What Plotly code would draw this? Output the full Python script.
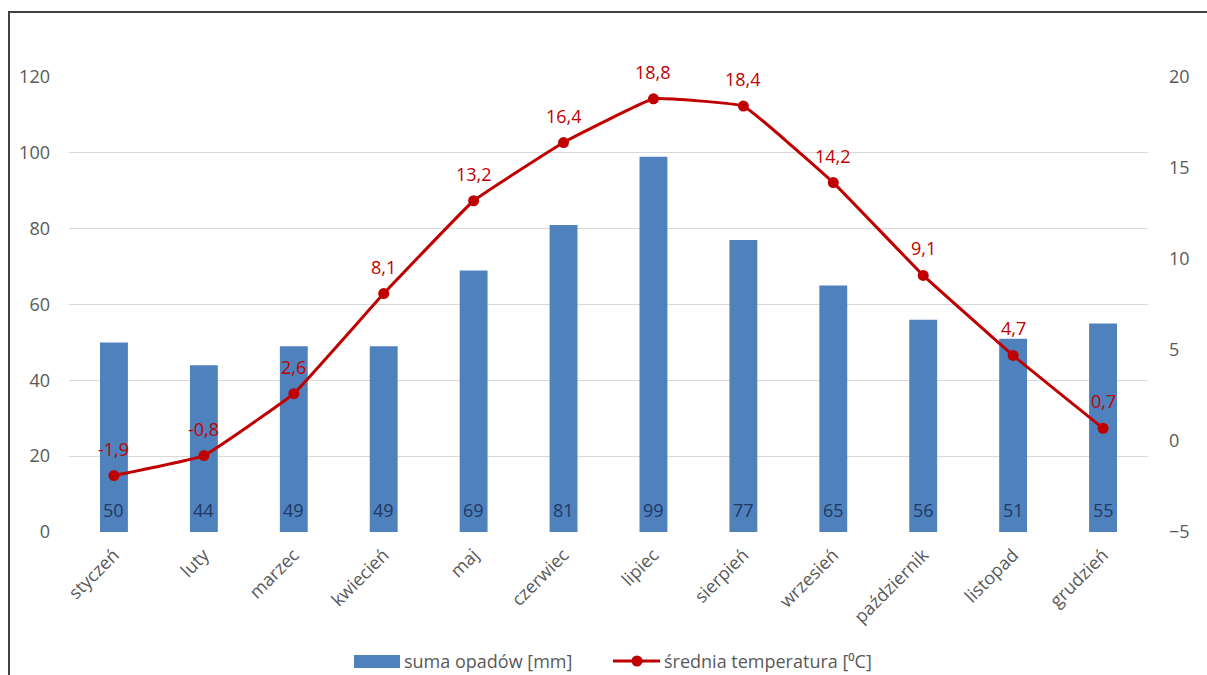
import plotly.graph_objects as go

months = ["styczeń", "luty", "marzec", "kwiecień", "maj", "czerwiec", "lipiec",
          "sierpień", "wrzesień", "październik", "listopad", "grudzień"]
precip = [50, 44, 49, 49, 69, 81, 99, 77, 65, 56, 51, 55]
temp = [-1.9, -0.8, 2.6, 8.1, 13.2, 16.4, 18.8, 18.4, 14.2, 9.1, 4.7, 0.7]
left_ticks = [0, 20, 40, 60, 80, 100, 120]
right_ticks = [-5, 0, 5, 10, 15, 20]
name_bar = "suma opadów [mm]"
name_line = "średnia temperatura [⁰C]"

FONT = "Open Sans"
GRAY = "#595959"
BLUE = "#4F81BD"
RED = "#C00000"
NAVY = "#1F3864"
FS = 18

W, H = 1207, 675
L, R, T, B = 69, 59, 77, 143
pw, ph = W - L - R, H - T - B


def px_x(p):
    return (p - L) / pw


def px_y(p):
    return (H - B - p) / ph


fig = go.Figure()
fig.add_trace(go.Bar(
    x=months, y=precip, name=name_bar,
    marker=dict(color=BLUE, line=dict(width=0)),
    width=0.31, yaxis="y", showlegend=False,
))
fig.add_trace(go.Scatter(
    x=months, y=temp, name=name_line,
    mode="lines+markers",
    line=dict(color=RED, width=3, shape="spline", smoothing=0.25),
    marker=dict(color=RED, size=11),
    yaxis="y2", cliponaxis=False, showlegend=False,
))

# bar value labels (inside, at base)
for m, v in zip(months, precip):
    fig.add_annotation(x=m, y=0, xref="x", yref="y", text=str(v), showarrow=False,
                       yanchor="middle", yshift=22,
                       font=dict(color=NAVY, size=FS, family=FONT))
# line value labels (above points)
for m, v in zip(months, temp):
    fig.add_annotation(x=m, y=v, xref="x", yref="y2", text=f"{v:.1f}".replace(".", ","),
                       showarrow=False, yanchor="middle", yshift=27,
                       font=dict(color=RED, size=FS, family=FONT))

fig.update_layout(
    width=W, height=H,
    margin=dict(l=L, r=R, t=T, b=B),
    paper_bgcolor="white", plot_bgcolor="white",
    font=dict(family=FONT, color=GRAY, size=FS),
    showlegend=False,
    xaxis=dict(range=[-0.5, len(months) - 0.5], tickangle=-45, showgrid=False,
               showline=False, ticks="", tickfont=dict(size=FS, color=GRAY),
               ticklabelstandoff=8),
    yaxis=dict(range=[0, 120], tickvals=left_ticks, showgrid=True, gridcolor="#D9D9D9",
               gridwidth=1, zeroline=False, showline=False, ticks="",
               tickfont=dict(size=FS, color=GRAY), ticklabelstandoff=18),
    yaxis2=dict(range=[-5, 20], tickvals=right_ticks, overlaying="y", side="right",
                showgrid=False, zeroline=False, showline=False, ticks="",
                tickfont=dict(size=FS, color=GRAY), ticklabelstandoff=20),
)

# custom legend
ly = 661
fig.add_shape(type="rect", xref="paper", yref="paper",
              x0=px_x(354), x1=px_x(400), y0=px_y(668), y1=px_y(655),
              fillcolor=BLUE, line=dict(width=0))
fig.add_annotation(xref="paper", yref="paper", x=px_x(402), y=px_y(ly), text=name_bar,
                   showarrow=False, xanchor="left", yanchor="middle",
                   font=dict(size=FS, color=GRAY, family=FONT))
fig.add_shape(type="line", xref="paper", yref="paper",
              x0=px_x(613), x1=px_x(660), y0=px_y(ly), y1=px_y(ly),
              line=dict(color=RED, width=3))
fig.add_shape(type="circle", xref="paper", yref="paper",
              x0=px_x(631.5), x1=px_x(642.5), y0=px_y(ly + 5.5), y1=px_y(ly - 5.5),
              fillcolor=RED, line=dict(width=0))
fig.add_annotation(xref="paper", yref="paper", x=px_x(662), y=px_y(ly), text=name_line,
                   showarrow=False, xanchor="left", yanchor="middle",
                   font=dict(size=FS, color=GRAY, family=FONT))

# outer chart border (top and left visible)
fig.add_shape(type="rect", xref="paper", yref="paper",
              x0=px_x(9), x1=px_x(W + 20),
              y0=px_y(H + 20), y1=px_y(12),
              line=dict(color="#404040", width=2), fillcolor="rgba(0,0,0,0)", layer="below")

fig.write_html("out.html")
